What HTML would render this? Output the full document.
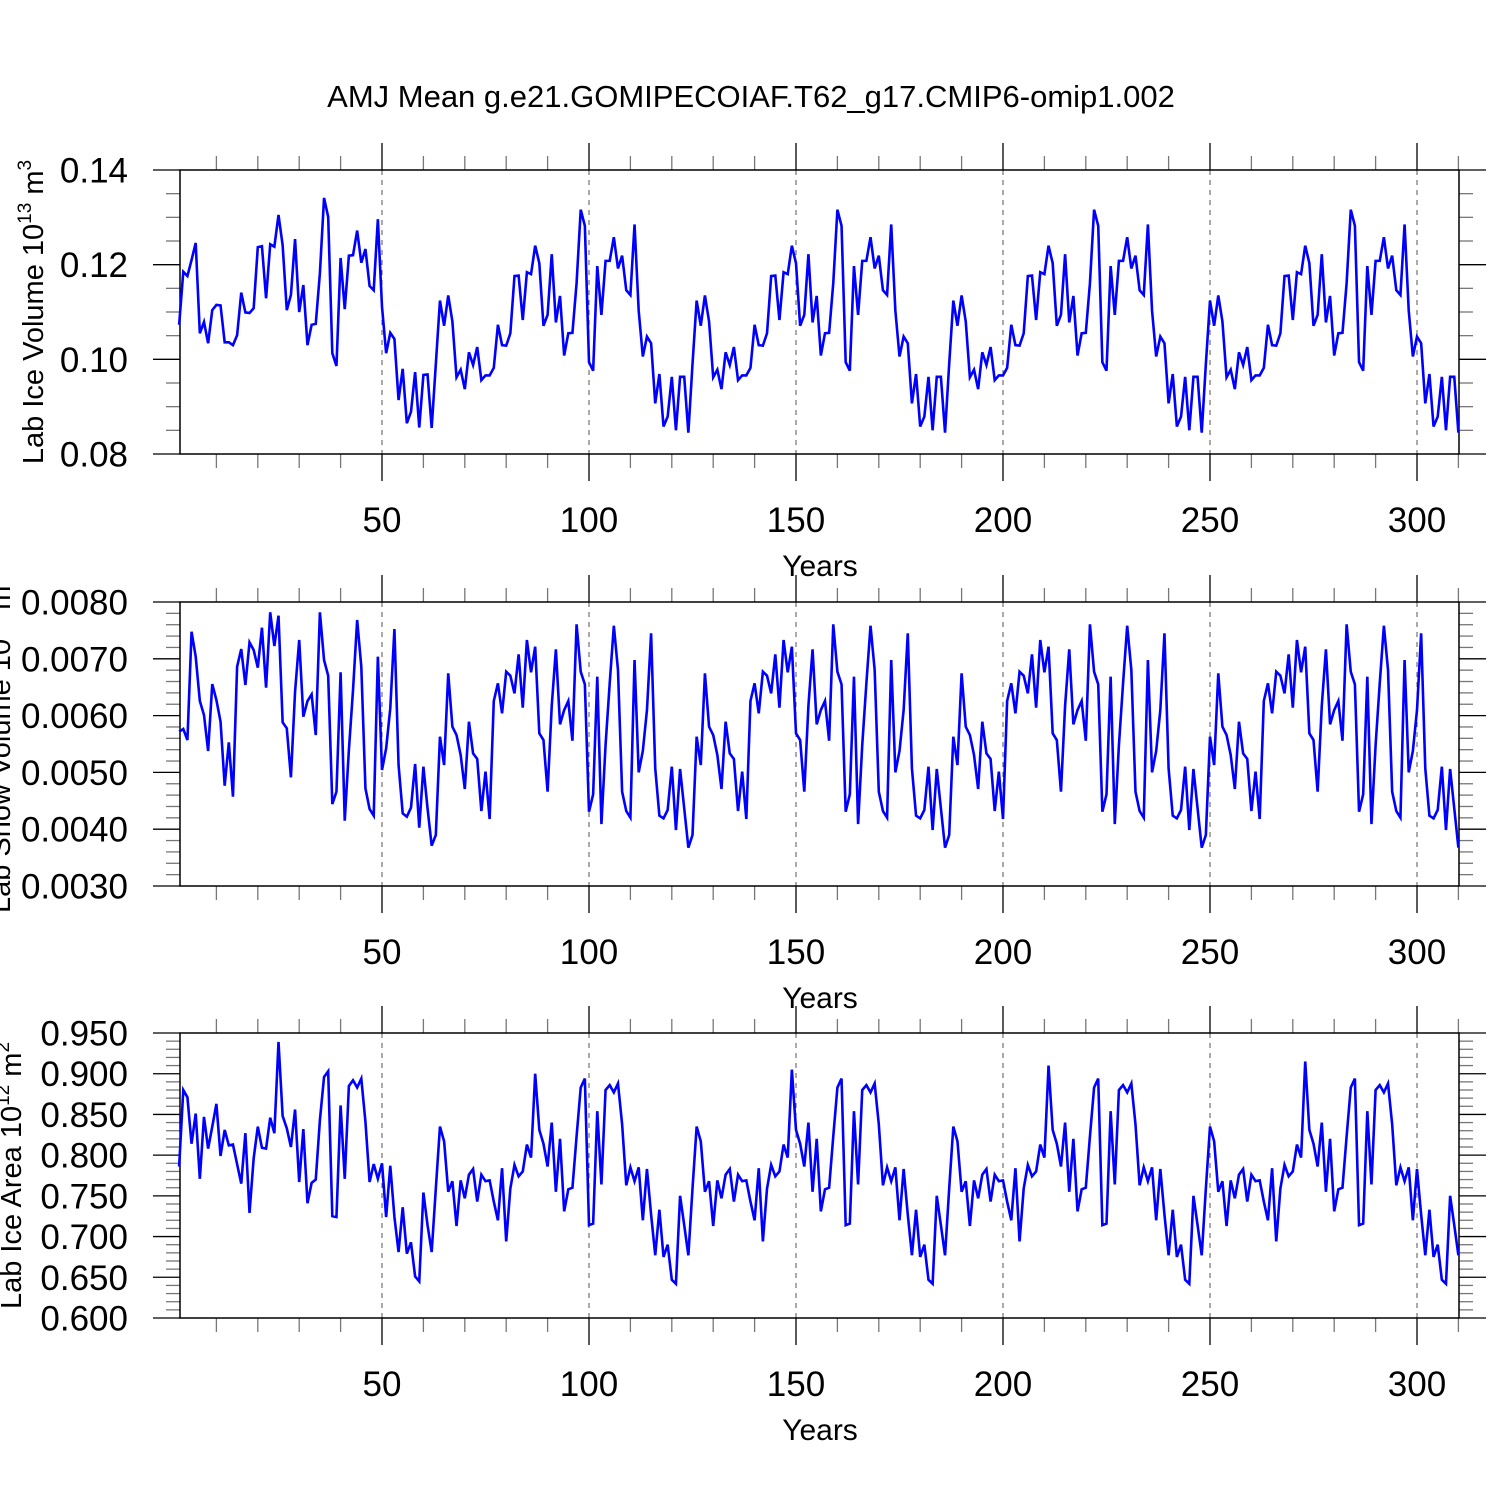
<!DOCTYPE html>
<html><head><meta charset="utf-8"><style>
html,body{margin:0;padding:0;background:#fff;}
svg{display:block;font-family:"Liberation Sans",sans-serif;}
</style></head><body>
<svg id="chart" width="1500" height="1500" viewBox="0 0 1500 1500" xmlns="http://www.w3.org/2000/svg">
<rect width="1500" height="1500" fill="#fff"/>
<text x="751" y="107" font-size="31" text-anchor="middle">AMJ Mean g.e21.GOMIPECOIAF.T62_g17.CMIP6-omip1.002</text>
<g id="plots"></g>
</svg>
<script>
const years = Array.from({length:310},(_, i)=>i+1);
const xTicks = [50,100,150,200,250,300];
const xTickLabels = ["50","100","150","200","250","300"];

const iceVolCycle1 = [0.1073,0.1185,0.1176,0.1210,0.1246,0.1055,0.1079,0.1034,0.1104,0.1115,0.1114,0.1036,0.1036,0.1030,0.1051,0.1141,0.1099,0.1098,0.1108,0.1237,0.1239,0.1129,0.1243,0.1238,0.1305,0.1241,0.1104,0.1136,0.1254,0.1100,0.1157,0.1030,0.1073,0.1075,0.1182,0.1341,0.1301,0.1013,0.0986,0.1214,0.1106,0.1219,0.1220,0.1272,0.1204,0.1233,0.1155,0.1146,0.1296,0.1111,0.1013,0.1056,0.1043,0.0914,0.0980,0.0865,0.0889,0.0973,0.0856,0.0967,0.0968,0.0855];
const iceVolCycle2 = [0.0990,0.1124,0.1071,0.1135,0.1080,0.0962,0.0978,0.0937,0.1015,0.0988,0.1026,0.0956,0.0966,0.0966,0.0982,0.1073,0.1030,0.1029,0.1055,0.1176,0.1177,0.1083,0.1184,0.1180,0.1240,0.1203,0.1071,0.1094,0.1222,0.1078,0.1134,0.1008,0.1055,0.1056,0.1161,0.1316,0.1282,0.0994,0.0976,0.1197,0.1094,0.1208,0.1208,0.1258,0.1192,0.1219,0.1146,0.1136,0.1285,0.1103,0.1006,0.1048,0.1034,0.0907,0.0969,0.0858,0.0879,0.0963,0.0850,0.0963,0.0963,0.0845];
const iceVolCycle3 = [0.0990,0.1124,0.1071,0.1135,0.1080,0.0962,0.0978,0.0937,0.1015,0.0988,0.1026,0.0956,0.0966,0.0966,0.0982,0.1073,0.1030,0.1029,0.1055,0.1176,0.1177,0.1083,0.1184,0.1180,0.1240,0.1203,0.1071,0.1094,0.1222,0.1078,0.1134,0.1008,0.1055,0.1056,0.1161,0.1316,0.1282,0.0994,0.0976,0.1197,0.1094,0.1208,0.1208,0.1258,0.1192,0.1219,0.1146,0.1136,0.1285,0.1103,0.1006,0.1048,0.1034,0.0907,0.0969,0.0858,0.0879,0.0963,0.0850,0.0963,0.0963,0.0845];
const iceVolCycle4 = [0.0990,0.1124,0.1071,0.1135,0.1080,0.0962,0.0978,0.0937,0.1015,0.0988,0.1026,0.0956,0.0966,0.0966,0.0982,0.1073,0.1030,0.1029,0.1055,0.1176,0.1177,0.1083,0.1184,0.1180,0.1240,0.1203,0.1071,0.1094,0.1222,0.1078,0.1134,0.1008,0.1055,0.1056,0.1161,0.1316,0.1282,0.0994,0.0976,0.1197,0.1094,0.1208,0.1208,0.1258,0.1192,0.1219,0.1146,0.1136,0.1285,0.1103,0.1006,0.1048,0.1034,0.0907,0.0969,0.0858,0.0879,0.0963,0.0850,0.0963,0.0963,0.0845];
const iceVolCycle5 = [0.0990,0.1124,0.1071,0.1135,0.1080,0.0962,0.0978,0.0937,0.1015,0.0988,0.1026,0.0956,0.0966,0.0966,0.0982,0.1073,0.1030,0.1029,0.1055,0.1176,0.1177,0.1083,0.1184,0.1180,0.1240,0.1203,0.1071,0.1094,0.1222,0.1078,0.1134,0.1008,0.1055,0.1056,0.1161,0.1316,0.1282,0.0994,0.0976,0.1197,0.1094,0.1208,0.1208,0.1258,0.1192,0.1219,0.1146,0.1136,0.1285,0.1103,0.1006,0.1048,0.1034,0.0907,0.0969,0.0858,0.0879,0.0963,0.0850,0.0963,0.0963,0.0845];

const snowCycle1 = [5.717,5.764,5.570,7.477,7.037,6.257,6.010,5.377,6.556,6.274,5.893,4.766,5.529,4.573,6.861,7.172,6.539,7.290,7.155,6.844,7.548,6.492,7.818,7.225,7.759,5.881,5.776,4.913,6.421,7.331,5.981,6.257,6.374,5.658,7.818,6.979,6.703,4.443,4.661,6.762,4.150,5.394,6.451,7.683,6.861,4.719,4.355,4.238,7.037,5.042,5.424,6.128,7.524,5.130,4.279,4.220,4.379,5.148,4.027,5.101,4.367,3.710];
const snowCycle2 = [3.898,5.629,5.130,6.744,5.805,5.658,5.306,4.708,5.893,5.335,5.236,4.320,5.013,4.180,6.257,6.568,6.040,6.773,6.703,6.392,7.078,6.139,7.331,6.762,7.213,5.688,5.570,4.661,6.175,7.166,5.846,6.098,6.257,5.558,7.607,6.773,6.550,4.308,4.614,6.685,4.091,5.482,6.568,7.583,6.803,4.661,4.320,4.203,6.979,5.001,5.377,6.098,7.448,5.071,4.238,4.191,4.338,5.101,3.986,5.060,4.367,3.675];
const snowCycle3 = [3.898,5.629,5.130,6.744,5.805,5.658,5.306,4.708,5.893,5.335,5.236,4.320,5.013,4.180,6.257,6.568,6.040,6.773,6.703,6.392,7.078,6.139,7.331,6.762,7.213,5.688,5.570,4.661,6.175,7.166,5.846,6.098,6.257,5.558,7.607,6.773,6.550,4.308,4.614,6.685,4.091,5.482,6.568,7.583,6.803,4.661,4.320,4.203,6.979,5.001,5.377,6.098,7.448,5.071,4.238,4.191,4.338,5.101,3.986,5.060,4.367,3.675];
const snowCycle4 = [3.898,5.629,5.130,6.744,5.805,5.658,5.306,4.708,5.893,5.335,5.236,4.320,5.013,4.180,6.257,6.568,6.040,6.773,6.703,6.392,7.078,6.139,7.331,6.762,7.213,5.688,5.570,4.661,6.175,7.166,5.846,6.098,6.257,5.558,7.607,6.773,6.550,4.308,4.614,6.685,4.091,5.482,6.568,7.583,6.803,4.661,4.320,4.203,6.979,5.001,5.377,6.098,7.448,5.071,4.238,4.191,4.338,5.101,3.986,5.060,4.367,3.675];
const snowCycle5 = [3.898,5.629,5.130,6.744,5.805,5.658,5.306,4.708,5.893,5.335,5.236,4.320,5.013,4.180,6.257,6.568,6.040,6.773,6.703,6.392,7.078,6.139,7.331,6.762,7.213,5.688,5.570,4.661,6.175,7.166,5.846,6.098,6.257,5.558,7.607,6.773,6.550,4.308,4.614,6.685,4.091,5.482,6.568,7.583,6.803,4.661,4.320,4.203,6.979,5.001,5.377,6.098,7.448,5.071,4.238,4.191,4.338,5.101,3.986,5.060,4.367,3.675];

const areaCycle1 = [0.786,0.880,0.871,0.814,0.851,0.771,0.847,0.808,0.835,0.863,0.799,0.831,0.812,0.813,0.789,0.765,0.827,0.729,0.796,0.835,0.809,0.808,0.846,0.827,0.939,0.848,0.833,0.810,0.856,0.767,0.832,0.741,0.766,0.770,0.843,0.896,0.903,0.725,0.724,0.861,0.771,0.885,0.892,0.883,0.894,0.841,0.767,0.789,0.771,0.790,0.724,0.787,0.724,0.681,0.736,0.679,0.693,0.651,0.645,0.754,0.714,0.681];
const areaCycle2 = [0.759,0.835,0.817,0.755,0.768,0.713,0.769,0.747,0.776,0.783,0.743,0.776,0.768,0.769,0.743,0.720,0.784,0.694,0.759,0.788,0.774,0.780,0.813,0.797,0.900,0.831,0.814,0.786,0.840,0.755,0.820,0.731,0.758,0.760,0.823,0.883,0.894,0.714,0.716,0.854,0.764,0.880,0.886,0.877,0.888,0.838,0.763,0.785,0.768,0.785,0.720,0.783,0.727,0.677,0.733,0.675,0.690,0.647,0.642,0.750,0.714,0.677];
const areaCycle3 = [0.759,0.835,0.817,0.755,0.768,0.713,0.769,0.747,0.776,0.783,0.743,0.776,0.768,0.769,0.743,0.720,0.784,0.694,0.759,0.788,0.774,0.780,0.813,0.797,0.905,0.831,0.814,0.786,0.840,0.755,0.820,0.731,0.758,0.760,0.823,0.883,0.894,0.714,0.716,0.854,0.764,0.880,0.886,0.877,0.888,0.838,0.763,0.785,0.768,0.785,0.720,0.783,0.727,0.677,0.733,0.675,0.690,0.647,0.642,0.750,0.714,0.677];
const areaCycle4 = [0.759,0.835,0.817,0.755,0.768,0.713,0.769,0.747,0.776,0.783,0.743,0.776,0.768,0.769,0.743,0.720,0.784,0.694,0.759,0.788,0.774,0.780,0.813,0.797,0.910,0.831,0.814,0.786,0.840,0.755,0.820,0.731,0.758,0.760,0.823,0.883,0.894,0.714,0.716,0.854,0.764,0.880,0.886,0.877,0.888,0.838,0.763,0.785,0.768,0.785,0.720,0.783,0.727,0.677,0.733,0.675,0.690,0.647,0.642,0.750,0.714,0.677];
const areaCycle5 = [0.759,0.835,0.817,0.755,0.768,0.713,0.769,0.747,0.776,0.783,0.743,0.776,0.768,0.769,0.743,0.720,0.784,0.694,0.759,0.788,0.774,0.780,0.813,0.797,0.915,0.831,0.814,0.786,0.840,0.755,0.820,0.731,0.758,0.760,0.823,0.883,0.894,0.714,0.716,0.854,0.764,0.880,0.886,0.877,0.888,0.838,0.763,0.785,0.768,0.785,0.720,0.783,0.727,0.677,0.733,0.675,0.690,0.647,0.642,0.750,0.714,0.677];

const iceVolume = iceVolCycle1.concat(iceVolCycle2, iceVolCycle3, iceVolCycle4, iceVolCycle5);
const snowVolume = snowCycle1.concat(snowCycle2, snowCycle3, snowCycle4, snowCycle5).map(v=>v/1000);
const iceArea = areaCycle1.concat(areaCycle2, areaCycle3, areaCycle4, areaCycle5);

const iceVolTicks = [0.08,0.10,0.12,0.14];
const iceVolTickLabels = ["0.08","0.10","0.12","0.14"];
const snowTicks = [0.003,0.004,0.005,0.006,0.007,0.008];
const snowTickLabels = ["0.0030","0.0040","0.0050","0.0060","0.0070","0.0080"];
const areaTicks = [0.60,0.65,0.70,0.75,0.80,0.85,0.90,0.95];
const areaTickLabels = ["0.600","0.650","0.700","0.750","0.800","0.850","0.900","0.950"];

const NS = "http://www.w3.org/2000/svg";
const root = document.getElementById('plots');
const X0 = 180, X1 = 1459;
function xScale(v){ return 175 + (v-0)*(382-175)/50; }
function mk(tag, attrs, parent){
  const e = document.createElementNS(NS, tag);
  for (const k in attrs) e.setAttribute(k, attrs[k]);
  parent.appendChild(e);
  return e;
}

function panel(cfg){
  const g = mk('g', {}, root);
  
  
  const yS = v => cfg.yTop + (cfg.ymax - v)/(cfg.ymax - cfg.ymin)*(cfg.yBot - cfg.yTop);
  xTicks.forEach(t=>{
    const l = mk('line', {x1:xScale(t), x2:xScale(t), y1:cfg.yTop, y2:cfg.yBot, stroke:'#555', 'stroke-width':1, 'stroke-dasharray':'5,5'}, g);
    
    
  });
  for (let t=10; t<=310; t+=10){
    const maj = t%50===0;
    const len = maj?27:14;
    const c = maj?'#000':'#777';
    mk('line', {x1:xScale(t), x2:xScale(t), y1:cfg.yTop-len, y2:cfg.yTop, stroke:c, 'stroke-width':1.3}, g);
    mk('line', {x1:xScale(t), x2:xScale(t), y1:cfg.yBot, y2:cfg.yBot+len, stroke:c, 'stroke-width':1.3}, g);
  }
  const nMin = Math.round((cfg.ymax-cfg.ymin)/cfg.minor);
  for (let i=0;i<=nMin;i++){
    const v = cfg.ymin + i*cfg.minor;
    const y = yS(v);
    const isMaj = cfg.ticks.some(t=>Math.abs(t-v)<cfg.minor/10);
    const len = isMaj?27:14;
    const c = isMaj?'#000':'#777';
    mk('line', {x1:X0-len, x2:X0, y1:y, y2:y, stroke:c, 'stroke-width':1.3}, g);
    mk('line', {x1:X1, x2:X1+len, y1:y, y2:y, stroke:c, 'stroke-width':1.3}, g);
  }
  const fr = mk('rect', {x:X0, y:cfg.yTop, width:X1-X0, height:cfg.yBot-cfg.yTop, fill:'none', stroke:'#000', 'stroke-width':1.5}, g);
  
  
  cfg.ticks.forEach((t,i)=>{
    const tx = mk('text', {x:128, y:yS(t)+12.5, 'font-size':35, 'text-anchor':'end'}, g);
    tx.textContent = cfg.tickLabels[i];
    
    
  });
  xTicks.forEach((t,i)=>{
    const tx = mk('text', {x:xScale(t), y:cfg.yBot+78, 'font-size':35, 'text-anchor':'middle'}, g);
    tx.textContent = xTickLabels[i];
    
    
  });
  const xt = mk('text', {x:820, y:cfg.yBot+122, 'font-size':30, 'text-anchor':'middle'}, g);
  xt.textContent = 'Years';
  
  
  const cy = (cfg.yTop+cfg.yBot)/2;
  const yt = mk('text', {x:0, y:0, 'font-size':29, 'text-anchor':'middle', transform:`translate(${cfg.titleX},${cy}) rotate(-90)`}, g);
  
  
  const t1 = mk('tspan', {}, yt); t1.textContent = cfg.title + ' 10';
  const t2 = mk('tspan', {'font-size':19, dy:-12}, yt); t2.textContent = cfg.exp;
  const t3 = mk('tspan', {dy:12}, yt); t3.textContent = ' m';
  const t4 = mk('tspan', {'font-size':19, dy:-12}, yt); t4.textContent = cfg.unitExp;
  const d = cfg.data.map((v,i)=>(i?'L':'M')+xScale(years[i]).toFixed(2)+','+yS(v).toFixed(2)).join('');
  const p = mk('path', {d:d, fill:'none', stroke:'#0000ff', 'stroke-width':2.6, 'stroke-linejoin':'miter'}, g);
  
  
}

panel({name:'ice-volume-panel', yTop:170, yBot:454, ymin:0.08, ymax:0.14, minor:0.005, ticks:iceVolTicks, tickLabels:iceVolTickLabels, data:iceVolume, title:'Lab Ice Volume', exp:'13', unitExp:'3', titleX:43});
panel({name:'snow-volume-panel', yTop:602, yBot:886, ymin:0.003, ymax:0.008, minor:0.0002, ticks:snowTicks, tickLabels:snowTickLabels, data:snowVolume, title:'Lab Snow Volume', exp:'13', unitExp:'3', titleX:10});
panel({name:'ice-area-panel', yTop:1033, yBot:1318, ymin:0.60, ymax:0.95, minor:0.01, ticks:areaTicks, tickLabels:areaTickLabels, data:iceArea, title:'Lab Ice Area', exp:'12', unitExp:'2', titleX:21});
</script>
</body></html>
